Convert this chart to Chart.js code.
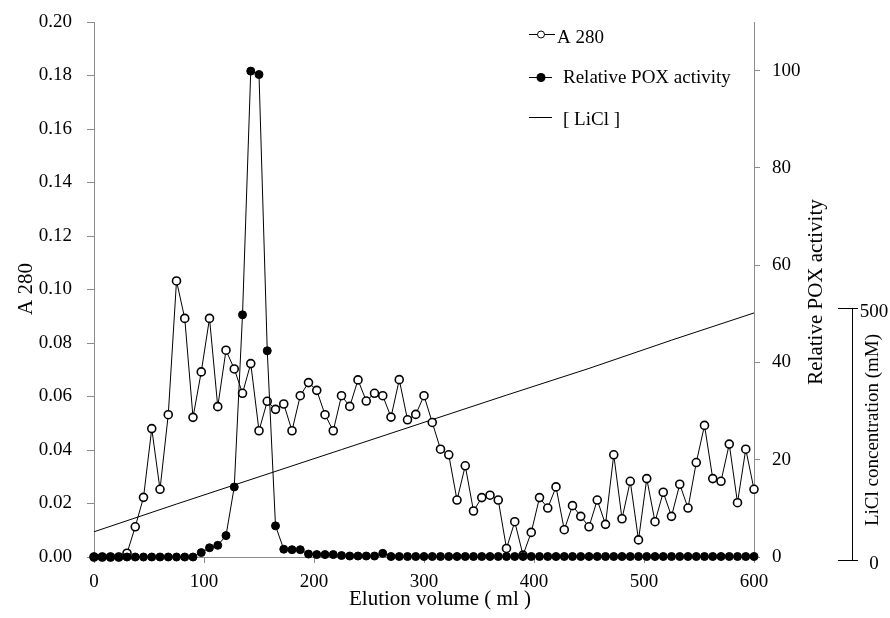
<!DOCTYPE html>
<html>
<head>
<meta charset="utf-8">
<title>Elution profile</title>
<script src="https://cdn.jsdelivr.net/npm/chart.js@4.4.1/dist/chart.umd.min.js"></script>
<style>
  html, body { margin: 0; padding: 0; background: #fff; }
  canvas { display: block; }
</style>
</head>
<body>
<canvas id="chart" width="890" height="618"></canvas>
<script>
// fractions of 7.5 ml
const volumes = [
    0, 7.5, 15, 22.5, 30, 37.5, 45, 52.5, 60, 67.5,
    75, 82.5, 90, 97.5, 105, 112.5, 120, 127.5, 135, 142.5,
    150, 157.5, 165, 172.5, 180, 187.5, 195, 202.5, 210, 217.5,
    225, 232.5, 240, 247.5, 255, 262.5, 270, 277.5, 285, 292.5,
    300, 307.5, 315, 322.5, 330, 337.5, 345, 352.5, 360, 367.5,
    375, 382.5, 390, 397.5, 405, 412.5, 420, 427.5, 435, 442.5,
    450, 457.5, 465, 472.5, 480, 487.5, 495, 502.5, 510, 517.5,
    525, 532.5, 540, 547.5, 555, 562.5, 570, 577.5, 585, 592.5,
    600
];

const a280 = [
    0, 0, 0, 0, 0.0014, 0.0113, 0.0223, 0.048, 0.0253, 0.0532,
    0.1032, 0.0892, 0.0522, 0.0692, 0.0892, 0.0562, 0.0773, 0.0703, 0.0612, 0.0723,
    0.0472, 0.0582, 0.0552, 0.0572, 0.0472, 0.0603, 0.0652, 0.0623, 0.0532, 0.0472,
    0.0603, 0.0563, 0.0662, 0.0583, 0.0612, 0.0603, 0.0523, 0.0663, 0.0513, 0.0533,
    0.0603, 0.0503, 0.0403, 0.0382, 0.0213, 0.0341, 0.0172, 0.0222, 0.0231, 0.0213,
    0.0032, 0.0132, 0.0007, 0.0092, 0.0222, 0.0183, 0.0262, 0.0102, 0.0192, 0.0152,
    0.0113, 0.0213, 0.0122, 0.0382, 0.0143, 0.0283, 0.0064, 0.0293, 0.0132, 0.0242,
    0.0152, 0.0272, 0.0183, 0.0353, 0.0492, 0.0293, 0.0283, 0.0422, 0.0203, 0.0403,
    0.0253
];

const poxActivity = [
    0, 0, 0, 0, 0, 0, 0, 0, 0, 0,
    0, 0, 0, 0.9, 1.9, 2.4, 4.4, 14.4, 49.8, 99.9,
    99.2, 42.4, 6.4, 1.6, 1.5, 1.5, 0.6, 0.5, 0.5, 0.5,
    0.3, 0.2, 0.2, 0.2, 0.2, 0.75, 0.1, 0.1, 0.1, 0.1,
    0.1, 0.1, 0.1, 0.1, 0.1, 0.1, 0.1, 0.1, 0.1, 0.1,
    0.1, 0.1, 0.1, 0.1, 0.1, 0.1, 0.1, 0.1, 0.1, 0.1,
    0.1, 0.1, 0.1, 0.1, 0.1, 0.1, 0.1, 0.1, 0.1, 0.1,
    0.1, 0.1, 0.1, 0.1, 0.1, 0.1, 0.1, 0.1, 0.1, 0.1,
    0.1
];

// LiCl gradient (mM)
const liclVolumes = [0, 75, 150, 225, 300, 375, 450, 525, 600];
const liclConc = [56, 111, 165, 219, 273, 327, 380, 436, 490];
const liclTicks = [0, 500];

const xTitle = 'Elution volume ( ml )';
const yTitle = 'A 280';
const y2Title = 'Relative POX activity';
const y3Title = 'LiCl concentration (mM)';

const SERIF = '"Liberation Serif", "Times New Roman", serif';
const AXIS_GREY = '#8c8c8c';

Chart.defaults.font.family = SERIF;

function toPoints(xs, ys) {
    return xs.map((x, i) => ({ x: x, y: ys[i] }));
}

// titles, the extra LiCl axis and the legend are drawn by hand
const extras = {
    id: 'extras',
    afterDraw(chart) {
        const c = chart.ctx;
        c.save();
        c.fillStyle = '#000';
        c.strokeStyle = '#000';

        c.font = '21px ' + SERIF;
        c.textAlign = 'center';
        c.textBaseline = 'alphabetic';
        c.fillText(xTitle, 440, 605);

        c.save();
        c.translate(32, 289);
        c.rotate(-Math.PI / 2);
        c.fillText(yTitle, 0, 0);
        c.restore();

        c.save();
        c.translate(822, 292);
        c.rotate(-Math.PI / 2);
        c.fillText(y2Title, 0, 0);
        c.restore();

        // LiCl axis
        const s = chart.scales.yLicl;
        const ax = 852;
        const yTop = s.getPixelForValue(liclTicks[liclTicks.length - 1]);
        const yBot = s.getPixelForValue(liclTicks[0]);
        c.lineWidth = 1;
        c.beginPath();
        c.moveTo(ax + 0.5, yTop);
        c.lineTo(ax + 0.5, yBot);
        c.stroke();
        c.font = '19px ' + SERIF;
        c.textBaseline = 'middle';
        liclTicks.forEach(v => {
            const y = Math.round(s.getPixelForValue(v)) + 0.5;
            c.beginPath();
            c.moveTo(ax - 14, y);
            c.lineTo(ax + 6, y);
            c.stroke();
            c.fillText(String(v), 874, y + 4);
        });

        c.save();
        c.font = '19px ' + SERIF;
        c.textBaseline = 'alphabetic';
        c.translate(878, 430);
        c.rotate(-Math.PI / 2);
        c.fillText(y3Title, 0, 0);
        c.restore();

        // legend
        c.font = '19px ' + SERIF;
        c.textAlign = 'left';
        c.textBaseline = 'alphabetic';
        c.lineWidth = 1;

        c.beginPath();
        c.moveTo(529, 34.5);
        c.lineTo(555, 34.5);
        c.stroke();
        c.beginPath();
        c.arc(541, 34.5, 3.5, 0, Math.PI * 2);
        c.fillStyle = '#fff';
        c.fill();
        c.stroke();
        c.fillStyle = '#000';
        c.fillText(chart.data.datasets[1].label, 557, 43);

        c.beginPath();
        c.moveTo(529, 77.5);
        c.lineTo(552, 77.5);
        c.stroke();
        c.beginPath();
        c.arc(541, 77.5, 4.5, 0, Math.PI * 2);
        c.fill();
        c.fillText(chart.data.datasets[0].label, 563, 83);

        c.beginPath();
        c.moveTo(529, 117.5);
        c.lineTo(552, 117.5);
        c.stroke();
        c.fillText(chart.data.datasets[2].label, 563, 125);

        c.restore();
    }
};

new Chart(document.getElementById('chart').getContext('2d'), {
    type: 'line',
    data: {
        datasets: [{
            label: 'Relative POX activity',
            data: toPoints(volumes, poxActivity),
            yAxisID: 'yPox',
            borderColor: '#000',
            borderWidth: 1,
            pointRadius: 4,
            pointBackgroundColor: '#000',
            pointBorderColor: '#000',
            pointBorderWidth: 1,
            order: 0,
            clip: false
        }, {
            label: 'A 280',
            data: toPoints(volumes, a280),
            yAxisID: 'y',
            borderColor: '#000',
            borderWidth: 1,
            pointRadius: 4,
            pointBackgroundColor: '#fff',
            pointBorderColor: '#000',
            pointBorderWidth: 1.6,
            order: 1,
            clip: false
        }, {
            label: '[ LiCl ]',
            data: toPoints(liclVolumes, liclConc),
            yAxisID: 'yLicl',
            borderColor: '#000',
            borderWidth: 1,
            pointRadius: 0,
            order: 2,
            clip: false
        }]
    },
    options: {
        responsive: false,
        animation: false,
        layout: { padding: { top: 22, left: 0, right: 0, bottom: 0 } },
        plugins: {
            legend: { display: false },
            tooltip: { enabled: false }
        },
        scales: {
            x: {
                type: 'linear',
                min: 0,
                max: 600,
                ticks: { stepSize: 100, font: { family: SERIF, size: 19 }, padding: 8, color: '#000' },
                grid: { drawOnChartArea: false, color: AXIS_GREY, tickLength: 6 },
                border: { color: AXIS_GREY },
                afterFit: s => { s.height = 61; s.paddingLeft = 0; s.paddingRight = 0; }
            },
            y: {
                position: 'left',
                min: 0,
                max: 0.2,
                ticks: {
                    stepSize: 0.02,
                    font: { family: SERIF, size: 19 },
                    padding: 15,
                    color: '#000',
                    callback: v => v.toFixed(2)
                },
                grid: { drawOnChartArea: false, color: AXIS_GREY, tickLength: 7 },
                border: { color: AXIS_GREY },
                afterFit: s => { s.width = 94; s.paddingTop = 0; s.paddingBottom = 0; }
            },
            yPox: {
                position: 'right',
                min: 0,
                max: 110,
                afterBuildTicks: s => { s.ticks = s.ticks.filter(t => t.value <= 100); },
                ticks: { stepSize: 20, font: { family: SERIF, size: 19 }, padding: 12, color: '#000' },
                grid: { drawOnChartArea: false, color: AXIS_GREY, tickLength: 6 },
                border: { color: AXIS_GREY },
                afterFit: s => { s.width = 136; s.paddingTop = 0; s.paddingBottom = 0; }
            },
            yLicl: {
                display: false,
                min: 6,
                max: 1067
            }
        }
    },
    plugins: [extras]
});
</script>
</body>
</html>
